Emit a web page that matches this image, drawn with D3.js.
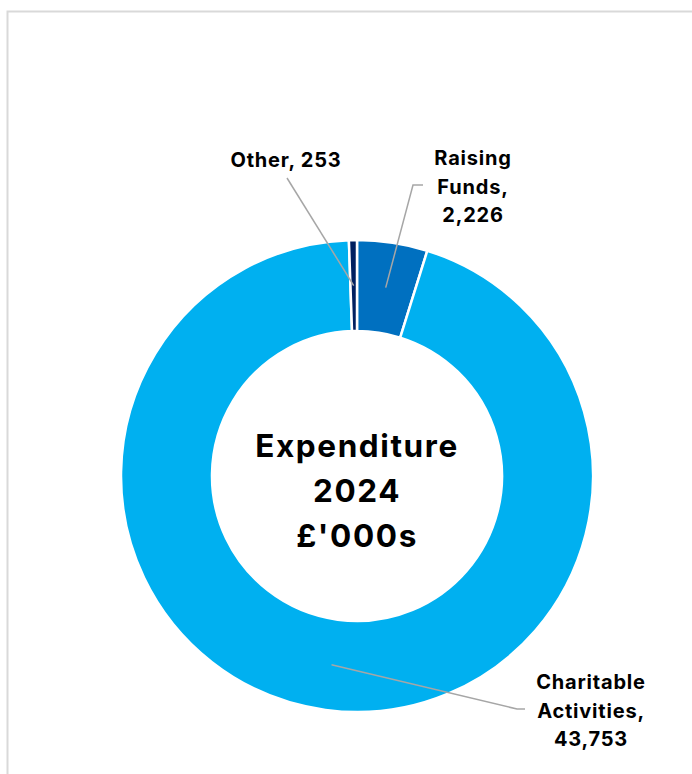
<!DOCTYPE html>
<html>
<head>
<meta charset="utf-8">
<script src="https://cdn.jsdelivr.net/npm/d3@7"></script>
<style>
  body { margin: 0; background: #fff; }
  svg text { font-family: Inter, "Liberation Sans", sans-serif; font-weight: 700; fill: #000; }
</style>
</head>
<body>
<svg id="board" width="692" height="774"></svg>
<script>
// chart data (£'000s)
let categories = ['Raising Funds', 'Charitable Activities', 'Other']
let values = [2226, 43753, 253]
let colors = ['#0070C0', '#00B0F0', '#002060']
let titleLines = ['Expenditure', '2024', "£'000s"]

let board = d3.select('#board')

// chart area border
board.append('rect')
    .attr('x', 7.5).attr('y', 11.5)
    .attr('width', 700).attr('height', 780)
    .attr('fill', 'none')
    .attr('stroke', '#d9d9d9')
    .attr('stroke-width', 2)

let cx = 357
let cy = 476
let outerR = 236
let innerR = 145

let pie = d3.pie().sort(null).value(d => d)
let arcs = pie(values)

let arc = d3.arc().innerRadius(innerR).outerRadius(outerR)

let g = board.append('g').attr('transform', `translate(${cx},${cy})`)

g.selectAll('path')
    .data(arcs)
    .enter()
    .append('path')
    .attr('d', arc)
    .attr('fill', (d, i) => colors[i])
    .attr('stroke', '#fff')
    .attr('stroke-width', 2.5)

// centre text
g.selectAll('text.title')
    .data(titleLines)
    .enter()
    .append('text')
    .attr('class', 'title')
    .attr('text-anchor', 'middle')
    .attr('y', (d, i) => -19 + i * 45)
    .style('font-size', '31.5px')
    .style('letter-spacing', '1.6px')
    .text(d => d)

// data labels with leader lines
let fmt = d3.format(',')
let labelR = (innerR + outerR) / 2
let labelInfo = [
    { lines: ['Raising', 'Funds,', fmt(values[0])], x: 473, y: 165, bend: [[413, 185], [423, 185]] },
    { lines: ['Charitable', 'Activities,', fmt(values[1])], x: 591, y: 689, bend: [[517, 709], [525, 709]] },
    { lines: [categories[2] + ', ' + fmt(values[2])], x: 286, y: 167, bend: [[287, 178]] }
]

arcs.forEach((a, i) => {
    let mid = (a.startAngle + a.endAngle) / 2
    let px = cx + labelR * Math.sin(mid)
    let py = cy - labelR * Math.cos(mid)
    let info = labelInfo[i]
    let pts = [[px, py]].concat(info.bend)
    board.append('path')
        .attr('d', d3.line()(pts))
        .attr('fill', 'none')
        .attr('stroke', '#a6a6a6')
        .attr('stroke-width', 1.5)
    info.lines.forEach((t, j) => {
        board.append('text')
            .attr('x', info.x)
            .attr('y', info.y + j * 28.5)
            .attr('text-anchor', 'middle')
            .style('font-size', '20px')
            .style('letter-spacing', '0.8px')
            .text(t)
    })
})
</script>
</body>
</html>
